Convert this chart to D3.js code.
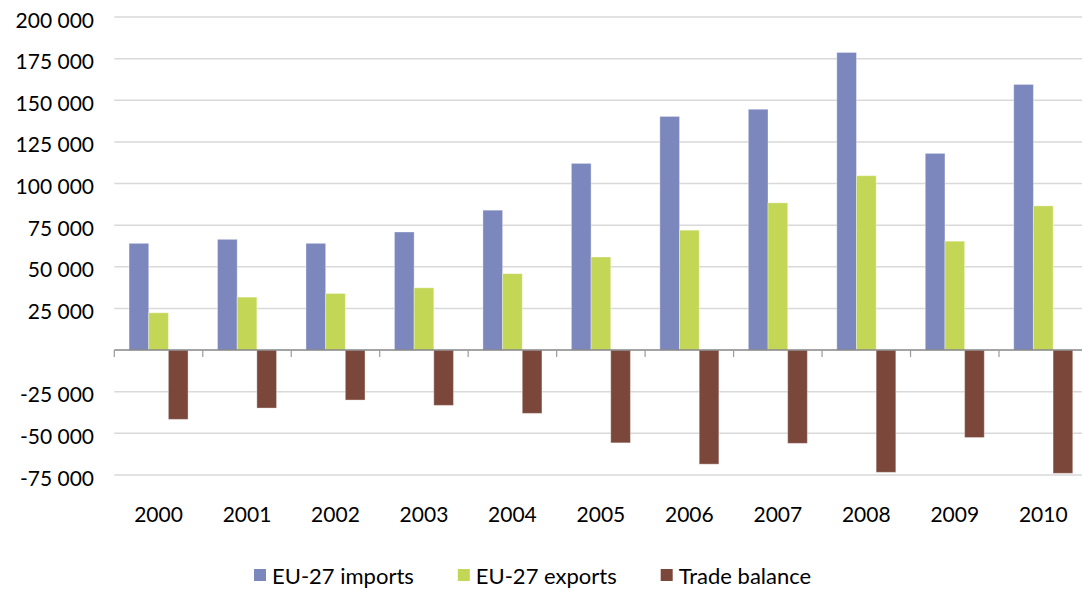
<!DOCTYPE html>
<html>
 <head>
 <title>EU-27 trade</title>
 <meta charset="UTF-8">
 <style type="text/css">
   body { margin: 0; background: #fff; }
   text { font-family: Lato, "Open Sans", sans-serif; fill: #000; }
 </style>
 <script src="https://d3js.org/d3.v7.min.js"></script>
 </head>
 <body>
 <script type="text/javascript">

  // values
  var years = ["2000","2001","2002","2003","2004","2005","2006","2007","2008","2009","2010"];
  var imports = [64100, 66500, 64100, 70900, 84000, 112100, 140300, 144600, 178700, 118100, 159500];
  var exports = [22400, 31800, 34000, 37400, 45900, 55900, 72000, 88400, 104700, 65400, 86600];
  var balance = [-41600, -34800, -30000, -33200, -38000, -55700, -68500, -56000, -73400, -52500, -74000];
  var seriesNames = ["EU-27 imports", "EU-27 exports", "Trade balance"];
  var colors = ["#7b87bd", "#c4d655", "#7b473b"];
  var yTicks = [-75000, -50000, -25000, 0, 25000, 50000, 75000, 100000, 125000, 150000, 175000, 200000];

  var width = 1082, height = 590;
  var plotLeft = 114.3, plotRight = 1087.5, plotTop = 17, plotBottom = 475;

  var svg = d3.select("body").append("svg")
      .attr("width", width)
      .attr("height", height);

  var x0 = d3.scaleBand()
      .domain(years)
      .range([plotLeft, plotRight])
      .paddingInner(0.333)
      .paddingOuter(0.1667);

  var x1 = d3.scaleBand()
      .domain(d3.range(3))
      .range([0, x0.bandwidth()]);

  var y = d3.scaleLinear()
      .domain([-75000, 200000])
      .range([plotBottom, plotTop]);

  var fmt = d3.formatLocale({decimal: ",", thousands: " ", grouping: [3], currency: ["", ""], minus: "-"}).format(",d");

  // gridlines
  svg.append("g").selectAll("line")
      .data(yTicks.filter(function(d) { return d !== 0; }))
      .enter().append("line")
      .attr("x1", plotLeft).attr("x2", width)
      .attr("y1", function(d) { return y(d); })
      .attr("y2", function(d) { return y(d); })
      .attr("stroke", "#d9d9d9")
      .attr("stroke-width", 1.5);

  // y labels
  svg.append("g").selectAll("text")
      .data(yTicks.filter(function(d) { return d !== 0; }))
      .enter().append("text")
      .attr("x", 94)
      .attr("y", function(d) { return y(d) + 10.5; })
      .attr("text-anchor", "end")
      .style("font-size", "21px")
      .text(function(d) { return fmt(d); });

  // bars
  var rows = years.map(function(yr, i) { return [imports[i], exports[i], balance[i]]; });
  var groups = svg.append("g").selectAll("g")
      .data(rows)
      .enter().append("g")
      .attr("transform", function(d, i) { return "translate(" + x0(years[i]) + ",0)"; });

  groups.selectAll("rect")
      .data(function(d) { return d; })
      .enter().append("rect")
      .attr("x", function(d, j) { return x1(j); })
      .attr("width", x1.bandwidth())
      .attr("y", function(d) { return Math.min(y(d), y(0)); })
      .attr("height", function(d) { return Math.abs(y(d) - y(0)); })
      .attr("fill", function(d, j) { return colors[j]; })
      .attr("stroke", "rgba(255,255,255,0.35)")
      .attr("stroke-width", 1);

  // zero axis with ticks
  svg.append("line")
      .attr("x1", plotLeft).attr("x2", width)
      .attr("y1", y(0)).attr("y2", y(0))
      .attr("stroke", "#868686")
      .attr("stroke-width", 1.5);

  var step = x0.step();
  svg.append("g").selectAll("line")
      .data(d3.range(years.length + 1))
      .enter().append("line")
      .attr("x1", function(i) { return plotLeft + i * step; })
      .attr("x2", function(i) { return plotLeft + i * step; })
      .attr("y1", y(0)).attr("y2", y(0) + 7)
      .attr("stroke", "#9a9a9a")
      .attr("stroke-width", 1.2);

  // x labels
  svg.append("g").selectAll("text")
      .data(years)
      .enter().append("text")
      .attr("x", function(d) { return x0(d) + x0.bandwidth() / 2; })
      .attr("y", 522)
      .attr("text-anchor", "middle")
      .style("font-size", "21px")
      .text(function(d) { return d; });

  // legend
  var lx = 254;
  seriesNames.forEach(function(name, j) {
    svg.append("rect")
        .attr("x", lx).attr("y", 569)
        .attr("width", 12).attr("height", 12)
        .attr("fill", colors[j]);
    var t = svg.append("text")
        .attr("x", lx + 18).attr("y", 584)
        .style("font-size", "22px")
        .text(name);
    lx += 18 + t.node().getComputedTextLength() + 44;
  });

 </script>
 </body>
</html>
